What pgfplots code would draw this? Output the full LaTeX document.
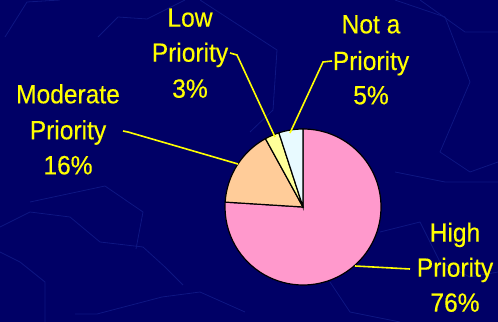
\documentclass[border=0pt]{standalone}
\usepackage{pgfplots}
\usepackage{pgfplotstable}
\pgfplotsset{compat=1.18}
\usepackage{fontspec}
\setmainfont{Liberation Sans}[FakeStretch=0.93, FakeBold=0.3]
\definecolor{bgnavy}{RGB}{0,0,102}
\definecolor{bgline}{RGB}{14,22,130}
\definecolor{pinkc}{RGB}{255,153,204}
\definecolor{peachc}{RGB}{255,204,153}
\definecolor{yellowc}{RGB}{255,255,153}
\definecolor{whitec}{RGB}{232,250,255}
\definecolor{txt}{RGB}{255,255,0}

\pgfplotstableread{
label value
High 76
Moderate 16
Low 3
Not 5
}\piedata
\pgfplotstablegetelem{0}{value}\of\piedata \pgfmathsetmacro\vA{\pgfplotsretval}
\pgfplotstablegetelem{1}{value}\of\piedata \pgfmathsetmacro\vB{\pgfplotsretval}
\pgfplotstablegetelem{2}{value}\of\piedata \pgfmathsetmacro\vC{\pgfplotsretval}
\pgfplotstablegetelem{3}{value}\of\piedata \pgfmathsetmacro\vD{\pgfplotsretval}
\pgfmathsetmacro\aA{90}
\pgfmathsetmacro\aB{\aA-3.6*\vA}
\pgfmathsetmacro\aC{\aB-3.6*\vB}
\pgfmathsetmacro\aD{\aC-3.6*\vC}
\pgfmathsetmacro\aE{\aD-3.6*\vD}
\newcommand\lbl[2]{\node[anchor=base, text=txt, font=\fontsize{26.5}{30}\selectfont, inner sep=0pt] at (axis cs:#1) {#2};}

\begin{document}
\begin{tikzpicture}
\begin{axis}[
  width=498bp, height=322bp, scale only axis,
  xmin=0, xmax=498, ymin=0, ymax=322,
  hide axis, clip=false,
]
\fill[bgnavy] (axis cs:0,0) rectangle (axis cs:498,322);
\coordinate (BL) at (axis cs:0,0);
\coordinate (TR) at (axis cs:498,322);
% faint background texture
\begin{scope}[draw=bgline, line width=0.8pt]
\draw (axis cs:5,285) -- (axis cs:27,320) -- (axis cs:60,322);
\draw (axis cs:98,285) -- (axis cs:118,305) -- (axis cs:147,303) -- (axis cs:185,322);
\draw (axis cs:200,322) -- (axis cs:277,272) -- (axis cs:273,212) -- (axis cs:250,190);
\draw (axis cs:0,95) -- (axis cs:30,110) -- (axis cs:70,105) -- (axis cs:100,80) -- (axis cs:143,75) -- (axis cs:165,55) -- (axis cs:183,37);
\draw (axis cs:30,120) -- (axis cs:105,136) -- (axis cs:143,110) -- (axis cs:136,73);
\draw (axis cs:75,8) -- (axis cs:97,8) -- (axis cs:162,25) -- (axis cs:200,30) -- (axis cs:245,10);
\draw (axis cs:395,322) -- (axis cs:445,305) -- (axis cs:470,240) -- (axis cs:440,170) -- (axis cs:470,150) -- (axis cs:498,160);
\draw (axis cs:420,322) -- (axis cs:465,290) -- (axis cs:498,290);
\draw (axis cs:395,150) -- (axis cs:445,140) -- (axis cs:498,140);
\draw (axis cs:380,90) -- (axis cs:420,100) -- (axis cs:440,60) -- (axis cs:470,45) -- (axis cs:498,50);
\draw (axis cs:330,40) -- (axis cs:350,10) -- (axis cs:400,0);
\draw (axis cs:0,70) -- (axis cs:20,60) -- (axis cs:45,40) -- (axis cs:45,0);
\end{scope}
% pie
\filldraw[fill=pinkc, draw=black, line width=1.2pt] (axis cs:303,115) -- ++(\aA:78bp) arc[start angle=\aA, end angle=\aB, radius=78bp] -- cycle;
\filldraw[fill=peachc, draw=black, line width=1.2pt] (axis cs:303,115) -- ++(\aB:78bp) arc[start angle=\aB, end angle=\aC, radius=78bp] -- cycle;
\filldraw[fill=yellowc, draw=black, line width=1.2pt] (axis cs:303,115) -- ++(\aC:78bp) arc[start angle=\aC, end angle=\aD, radius=78bp] -- cycle;
\filldraw[fill=whitec, draw=black, line width=1.2pt] (axis cs:303,115) -- ++(\aD:78bp) arc[start angle=\aD, end angle=\aE, radius=78bp] -- cycle;
% leader lines
\begin{scope}[draw=txt, line width=1.6pt]
\draw (axis cs:123,191) -- (axis cs:128,190) -- (axis cs:238,158);
\draw (axis cs:230,269) -- (axis cs:237,267) -- (axis cs:275,185);
\draw (axis cs:332,261) -- (axis cs:323,260) -- (axis cs:290,189);
\draw (axis cs:355,56) -- (axis cs:410,53);
\end{scope}
% labels
\lbl{68,218.7}{Moderate}
\lbl{68,182.7}{Priority}
\lbl{68,147.7}{16\%}
\lbl{190,295.3}{Low}
\lbl{190,260.3}{Priority}
\lbl{190,224.3}{3\%}
\lbl{371,288.7}{Not a}
\lbl{371,252.0}{Priority}
\lbl{371,217.7}{5\%}
\lbl{455,80.3}{High}
\lbl{455,45.3}{Priority}
\lbl{455,10.3}{76\%}
\end{axis}
\pgfresetboundingbox
\useasboundingbox (BL) rectangle (TR);
\end{tikzpicture}
\end{document}
